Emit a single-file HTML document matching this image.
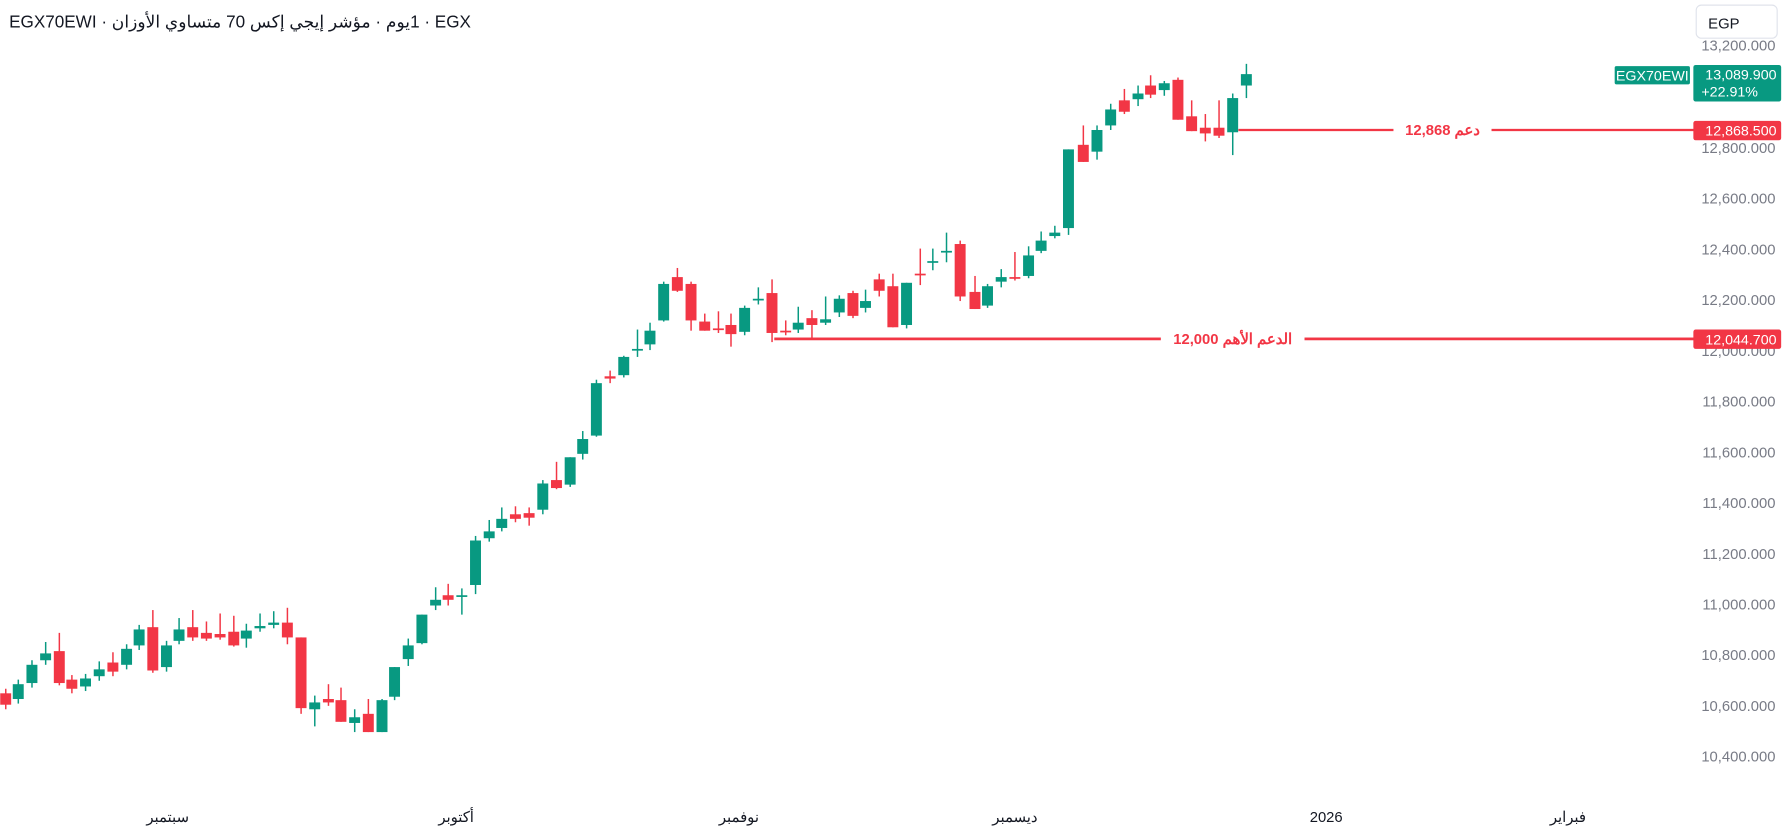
<!DOCTYPE html>
<html><head><meta charset="utf-8">
<style>
html,body{margin:0;padding:0;background:#fff;overflow:hidden;width:1788px;height:833px}
#c{position:absolute;left:0;top:0;width:1568px;height:731px;transform:scale(1.14031);transform-origin:0 0;font-family:"Liberation Sans","Noto Sans CJK SC",sans-serif}
.t{position:absolute;left:8px;top:10px;font-size:15px;color:#131722;white-space:nowrap;direction:ltr}
.t bdi{unicode-bidi:isolate}
.egp{position:absolute;left:1487px;top:4px;width:72px;height:30px;border:1px solid #e0e3eb;border-radius:5px;box-sizing:border-box;font-size:13px;color:#131722;padding:8px 0 0 10px}
</style></head><body>
<div id="c">
<div class="t">EGX70EWI · <bdi dir="rtl">مؤشر إيجي إكس 70 متساوي الأوزان</bdi> · <bdi dir="rtl">1يوم</bdi> · EGX</div>
<div class="egp">EGP</div>
<svg id="s" width="1568" height="731" style="position:absolute;left:0;top:0" font-family="Liberation Sans, sans-serif"></svg>
</div>
<script>
var s=document.getElementById('s'),h='';
var d=[
[5,'r',608,618],[16,'g',600,613],[28,'g',583,599],[40,'g',573,579,563,583],[52,'r',571,599,555,601],[63,'r',596,604],[75,'g',595,602],[87,'g',587,593,580,597],[99,'r',581,589,572,593],[111,'g',569,583],
[122,'g',552,566],[134,'r',550,588,535,590],[146,'g',566,585],[157,'g',552,562,542,565],[169,'r',550,559,535,562],[181,'r',555,560,545,562],[193,'r',556,559,538,561],[205,'r',554,566,540,567],[216,'g',553,560,547,568],[228,'g',549,551,538,554],
[240,'g',546,548,536,551],[252,'r',546,559,533,565],[264,'r',559,621,559,626],[276,'g',616,622,610,637],[288,'r',613,616,600,619],[299,'r',614,633,603,633],[311,'g',629,634,622,642],[323,'r',626,642,613,642],[335,'g',614,642,613,642],[346,'g',585,611,585,614],
[358,'g',566,578,560,584],[370,'g',539,564,539,565],[382,'g',526,531,515,535],[393,'r',522,526,512,531],[405,'g',522,523,516,539],[417,'g',474,513,470,521],[429,'g',466,472,456,475],[440,'g',455,463,445,466],[452,'r',451,455,444,458],[464,'r',450,454,445,461],
[476,'g',424,447,421,451],[488,'r',421,428,405,429],[500,'g',401,425,401,427],[511,'g',385,398,378,403],[523,'g',336,382,333,383],[535,'r',330,332,325,336],[547,'g',313,329,312,331],[559,'g',306,307,289,313],[570,'g',290,302,283,307],[582,'g',249,281,247,282],
[594,'r',243,255,235,256],[606,'r',249,281,247,290],[618,'r',282,290,275,290],[630,'r',288,289,273,292],[641,'r',285,293,275,304],[653,'g',270,291,268,294],[665,'g',262,263,252,267],[677,'r',257,292,245,300],[689,'r',290,291,281,294],[700,'g',283,289,269,292],
[712,'r',279,285,272,297],[724,'g',280,283,260,285],[736,'g',262,274,259,278],[748,'r',257,277,255,279],[759,'g',264,270,254,274],[771,'r',245,255,240,260],[783,'r',251,287,240,287],[795,'g',248,285,248,288],[807,'r',240,241,218,250],[818,'g',229,230,218,237],
[830,'g',220,221,204,230],[842,'r',214,260,211,264],[855,'r',256,271,242,271],[866,'g',251,268,249,270],[878,'g',243,247,236,252],[890,'r',243,244,221,246],[902,'g',224,242,216,244],[913,'g',211,220,203,222],[925,'g',204,207,198,209],[937,'g',131,200,131,206],
[950,'r',127,142,110,142],[962,'g',114,133,110,140],[974,'g',96,110,91,114],[986,'r',88,98,78,100],[998,'g',82,87,75,93],[1009,'r',75,83,66,86],[1021,'g',73,79,71,84],[1033,'r',70,105,68,105],[1045,'r',102,115,88,115],[1057,'r',112,117,100,124],
[1069,'r',112,119,88,121],[1081,'g',86,116,82,136],[1093,'g',65,75,56,86]];
var labs=[[40,'13,200.000'],[129.5,'12,800.000'],[174,'12,600.000'],[218.5,'12,400.000'],[263,'12,200.000'],[352,'11,800.000'],[396.5,'11,600.000'],[441,'11,400.000'],[485.5,'11,200.000'],[530,'11,000.000'],[574.5,'10,800.000'],[619,'10,600.000'],[663.5,'10,400.000'],[307.5,'12,000.000']];
labs.forEach(function(l){h+='<text x="1557" y="'+(l[0]+4.5)+'" text-anchor="end" font-size="13" fill="#787b86">'+l[1]+'</text>';});
d.forEach(function(c){var col=c[1]=='g'?'#089981':'#f23645';var t=c[2],b=c[3];if(b-t<1.5)b=t+1.5;var hi=c[4]!=null?c[4]:t-4,lo=c[5]!=null?c[5]:b+4;
h+='<rect x="'+(c[0]-0.6)+'" y="'+hi+'" width="1.3" height="'+(lo-hi)+'" fill="'+col+'"/>';
h+='<rect x="'+(c[0]-4.8)+'" y="'+t+'" width="9.6" height="'+(b-t)+'" fill="'+col+'"/>';});
h+='<rect x="1086" y="113" width="400" height="2" fill="#f23645"/>';
h+='<rect x="1222" y="105" width="86" height="18" fill="#fff"/><text x="1265" y="118.5" text-anchor="middle" font-size="13" font-weight="bold" fill="#f23645">دعم 12,868</text>';
h+='<rect x="679" y="296" width="807" height="2.4" fill="#f23645"/>';
h+='<rect x="1018" y="288" width="126" height="18" fill="#fff"/><text x="1081" y="301.5" text-anchor="middle" font-size="13" font-weight="bold" fill="#f23645">الدعم الأهم 12,000</text>';
h+='<rect x="1416" y="58" width="66" height="16" rx="1.5" fill="#089981"/><text x="1449" y="70.5" text-anchor="middle" font-size="12.5" fill="#fff">EGX70EWI</text>';
h+='<rect x="1485" y="57" width="77" height="32" rx="2" fill="#089981"/><text x="1558" y="69.5" text-anchor="end" font-size="12.5" fill="#fff">13,089.900</text><text x="1492" y="84.5" font-size="12.5" fill="#fff">+22.91%</text>';
h+='<rect x="1485" y="106" width="77" height="17" rx="2" fill="#f23645"/><text x="1558" y="119" text-anchor="end" font-size="12.5" fill="#fff">12,868.500</text>';
h+='<rect x="1485" y="289" width="77" height="17" rx="2" fill="#f23645"/><text x="1558" y="302" text-anchor="end" font-size="12.5" fill="#fff">12,044.700</text>';
[[147,'سبتمبر'],[400,'أكتوبر'],[648,'نوفمبر'],[890,'ديسمبر'],[1163,'2026'],[1375,'فبراير']].forEach(function(l){h+='<text x="'+l[0]+'" y="721" text-anchor="middle" font-size="13" fill="#131722">'+l[1]+'</text>';});
s.innerHTML=h;
</script>
</body></html>
